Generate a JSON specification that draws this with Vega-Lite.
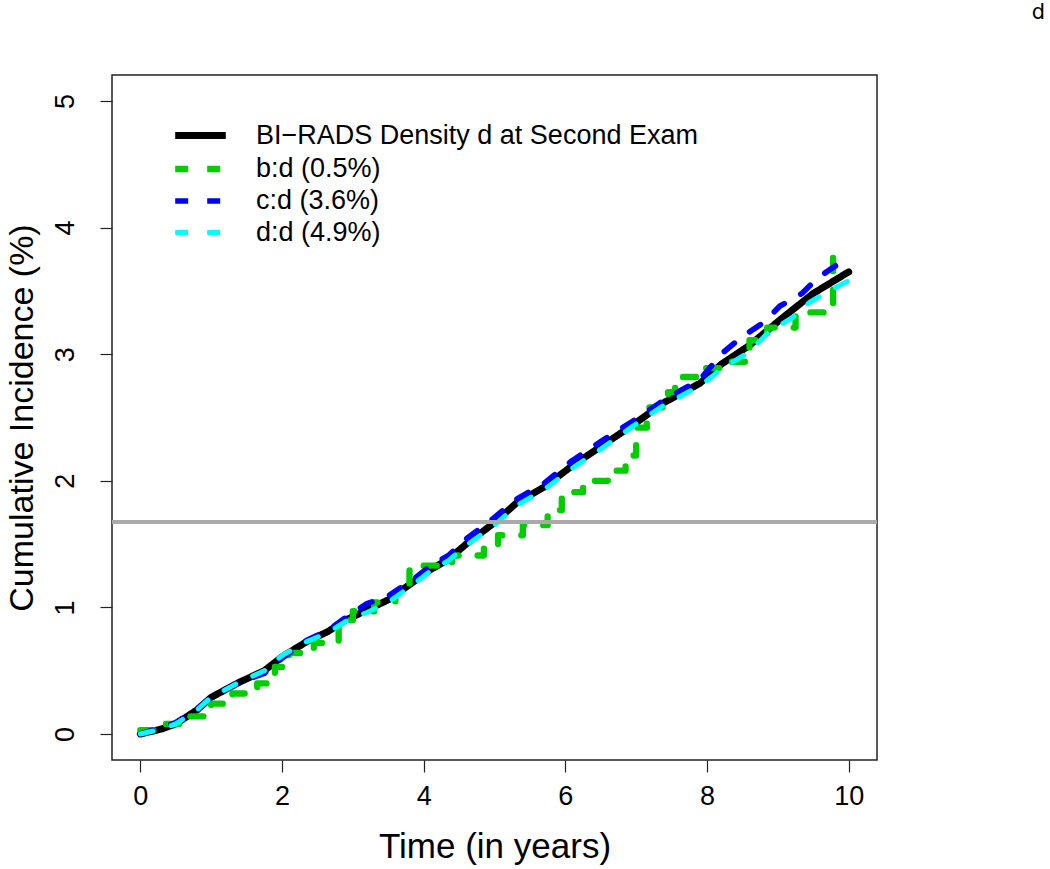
{
  "$schema": "https://vega.github.io/schema/vega-lite/v6.json",
  "width": 765,
  "height": 685,
  "autosize": {"type": "none"},
  "padding": {"left": 112, "top": 75, "right": 173, "bottom": 109},
  "background": "white",
  "title": {"text": "d", "anchor": "end", "dx": 168, "offset": 52, "fontSize": 21, "font": "DejaVu Sans", "fontWeight": "normal", "color": "black"},
  "config": {
    "view": {"stroke": "#222222", "strokeWidth": 1.5}
  },
  "data": {"values": [
    {"series": "BI−RADS Density d at Second Exam", "t": 0, "ci": 0},
    {"series": "BI−RADS Density d at Second Exam", "t": 0.3, "ci": 0.04},
    {"series": "BI−RADS Density d at Second Exam", "t": 0.5, "ci": 0.08},
    {"series": "BI−RADS Density d at Second Exam", "t": 0.8, "ci": 0.19},
    {"series": "BI−RADS Density d at Second Exam", "t": 1.0, "ci": 0.29},
    {"series": "BI−RADS Density d at Second Exam", "t": 1.4, "ci": 0.41},
    {"series": "BI−RADS Density d at Second Exam", "t": 1.75, "ci": 0.5},
    {"series": "BI−RADS Density d at Second Exam", "t": 2.0, "ci": 0.61},
    {"series": "BI−RADS Density d at Second Exam", "t": 2.35, "ci": 0.73},
    {"series": "BI−RADS Density d at Second Exam", "t": 2.65, "ci": 0.81},
    {"series": "BI−RADS Density d at Second Exam", "t": 2.9, "ci": 0.9},
    {"series": "BI−RADS Density d at Second Exam", "t": 3.2, "ci": 0.98},
    {"series": "BI−RADS Density d at Second Exam", "t": 3.5, "ci": 1.06},
    {"series": "BI−RADS Density d at Second Exam", "t": 3.85, "ci": 1.2},
    {"series": "BI−RADS Density d at Second Exam", "t": 4.1, "ci": 1.3},
    {"series": "BI−RADS Density d at Second Exam", "t": 4.35, "ci": 1.38},
    {"series": "BI−RADS Density d at Second Exam", "t": 4.6, "ci": 1.5},
    {"series": "BI−RADS Density d at Second Exam", "t": 5.0, "ci": 1.67},
    {"series": "BI−RADS Density d at Second Exam", "t": 5.3, "ci": 1.82},
    {"series": "BI−RADS Density d at Second Exam", "t": 5.7, "ci": 1.95},
    {"series": "BI−RADS Density d at Second Exam", "t": 6.1, "ci": 2.12},
    {"series": "BI−RADS Density d at Second Exam", "t": 6.5, "ci": 2.27},
    {"series": "BI−RADS Density d at Second Exam", "t": 6.95, "ci": 2.44},
    {"series": "BI−RADS Density d at Second Exam", "t": 7.4, "ci": 2.62},
    {"series": "BI−RADS Density d at Second Exam", "t": 7.9, "ci": 2.77},
    {"series": "BI−RADS Density d at Second Exam", "t": 8.2, "ci": 2.92},
    {"series": "BI−RADS Density d at Second Exam", "t": 8.6, "ci": 3.07},
    {"series": "BI−RADS Density d at Second Exam", "t": 9.05, "ci": 3.28},
    {"series": "BI−RADS Density d at Second Exam", "t": 9.5, "ci": 3.48},
    {"series": "BI−RADS Density d at Second Exam", "t": 10.0, "ci": 3.65},

    {"series": "b:d (0.5%)", "t": 0, "ci": 0.03},
    {"series": "b:d (0.5%)", "t": 0.3, "ci": 0.08},
    {"series": "b:d (0.5%)", "t": 0.7, "ci": 0.14},
    {"series": "b:d (0.5%)", "t": 1.0, "ci": 0.24},
    {"series": "b:d (0.5%)", "t": 1.3, "ci": 0.32},
    {"series": "b:d (0.5%)", "t": 1.65, "ci": 0.4},
    {"series": "b:d (0.5%)", "t": 1.9, "ci": 0.53},
    {"series": "b:d (0.5%)", "t": 2.1, "ci": 0.64},
    {"series": "b:d (0.5%)", "t": 2.45, "ci": 0.72},
    {"series": "b:d (0.5%)", "t": 2.8, "ci": 0.9},
    {"series": "b:d (0.5%)", "t": 3.0, "ci": 0.97},
    {"series": "b:d (0.5%)", "t": 3.3, "ci": 1.04},
    {"series": "b:d (0.5%)", "t": 3.6, "ci": 1.12},
    {"series": "b:d (0.5%)", "t": 3.8, "ci": 1.33},
    {"series": "b:d (0.5%)", "t": 4.4, "ci": 1.41},
    {"series": "b:d (0.5%)", "t": 4.85, "ci": 1.49},
    {"series": "b:d (0.5%)", "t": 5.05, "ci": 1.57},
    {"series": "b:d (0.5%)", "t": 5.4, "ci": 1.65},
    {"series": "b:d (0.5%)", "t": 5.75, "ci": 1.77},
    {"series": "b:d (0.5%)", "t": 5.95, "ci": 1.91},
    {"series": "b:d (0.5%)", "t": 6.25, "ci": 2.0},
    {"series": "b:d (0.5%)", "t": 6.6, "ci": 2.08},
    {"series": "b:d (0.5%)", "t": 6.85, "ci": 2.2},
    {"series": "b:d (0.5%)", "t": 7.0, "ci": 2.42},
    {"series": "b:d (0.5%)", "t": 7.15, "ci": 2.58},
    {"series": "b:d (0.5%)", "t": 7.45, "ci": 2.7},
    {"series": "b:d (0.5%)", "t": 7.55, "ci": 2.82},
    {"series": "b:d (0.5%)", "t": 7.95, "ci": 2.89},
    {"series": "b:d (0.5%)", "t": 8.3, "ci": 2.94},
    {"series": "b:d (0.5%)", "t": 8.6, "ci": 3.11},
    {"series": "b:d (0.5%)", "t": 8.85, "ci": 3.21},
    {"series": "b:d (0.5%)", "t": 9.25, "ci": 3.33},
    {"series": "b:d (0.5%)", "t": 9.78, "ci": 3.78},
    {"series": "b:d (0.5%)", "t": 9.86, "ci": 3.78},

    {"series": "c:d (3.6%)", "t": 0, "ci": 0},
    {"series": "c:d (3.6%)", "t": 0.3, "ci": 0.05},
    {"series": "c:d (3.6%)", "t": 0.5, "ci": 0.09},
    {"series": "c:d (3.6%)", "t": 0.8, "ci": 0.2},
    {"series": "c:d (3.6%)", "t": 1.0, "ci": 0.29},
    {"series": "c:d (3.6%)", "t": 1.4, "ci": 0.41},
    {"series": "c:d (3.6%)", "t": 1.75, "ci": 0.48},
    {"series": "c:d (3.6%)", "t": 2.0, "ci": 0.6},
    {"series": "c:d (3.6%)", "t": 2.35, "ci": 0.74},
    {"series": "c:d (3.6%)", "t": 2.65, "ci": 0.82},
    {"series": "c:d (3.6%)", "t": 2.9, "ci": 0.92},
    {"series": "c:d (3.6%)", "t": 3.2, "ci": 1.03},
    {"series": "c:d (3.6%)", "t": 3.5, "ci": 1.09},
    {"series": "c:d (3.6%)", "t": 3.85, "ci": 1.22},
    {"series": "c:d (3.6%)", "t": 4.1, "ci": 1.33},
    {"series": "c:d (3.6%)", "t": 4.35, "ci": 1.41},
    {"series": "c:d (3.6%)", "t": 4.6, "ci": 1.54},
    {"series": "c:d (3.6%)", "t": 5.0, "ci": 1.71},
    {"series": "c:d (3.6%)", "t": 5.3, "ci": 1.85},
    {"series": "c:d (3.6%)", "t": 5.7, "ci": 1.98},
    {"series": "c:d (3.6%)", "t": 6.1, "ci": 2.16},
    {"series": "c:d (3.6%)", "t": 6.5, "ci": 2.31},
    {"series": "c:d (3.6%)", "t": 6.95, "ci": 2.47},
    {"series": "c:d (3.6%)", "t": 7.4, "ci": 2.64},
    {"series": "c:d (3.6%)", "t": 7.9, "ci": 2.8},
    {"series": "c:d (3.6%)", "t": 8.22, "ci": 3.01},
    {"series": "c:d (3.6%)", "t": 8.5, "ci": 3.14},
    {"series": "c:d (3.6%)", "t": 8.8, "ci": 3.25},
    {"series": "c:d (3.6%)", "t": 9.03, "ci": 3.38},
    {"series": "c:d (3.6%)", "t": 9.34, "ci": 3.48},
    {"series": "c:d (3.6%)", "t": 9.56, "ci": 3.6},
    {"series": "c:d (3.6%)", "t": 9.87, "ci": 3.72},

    {"series": "d:d (4.9%)", "t": 0, "ci": 0},
    {"series": "d:d (4.9%)", "t": 0.3, "ci": 0.04},
    {"series": "d:d (4.9%)", "t": 0.5, "ci": 0.08},
    {"series": "d:d (4.9%)", "t": 0.8, "ci": 0.19},
    {"series": "d:d (4.9%)", "t": 1.0, "ci": 0.29},
    {"series": "d:d (4.9%)", "t": 1.4, "ci": 0.41},
    {"series": "d:d (4.9%)", "t": 1.75, "ci": 0.5},
    {"series": "d:d (4.9%)", "t": 2.0, "ci": 0.62},
    {"series": "d:d (4.9%)", "t": 2.35, "ci": 0.73},
    {"series": "d:d (4.9%)", "t": 2.65, "ci": 0.8},
    {"series": "d:d (4.9%)", "t": 2.9, "ci": 0.89},
    {"series": "d:d (4.9%)", "t": 3.2, "ci": 0.96},
    {"series": "d:d (4.9%)", "t": 3.5, "ci": 1.04},
    {"series": "d:d (4.9%)", "t": 3.85, "ci": 1.18},
    {"series": "d:d (4.9%)", "t": 4.1, "ci": 1.29},
    {"series": "d:d (4.9%)", "t": 4.35, "ci": 1.37},
    {"series": "d:d (4.9%)", "t": 4.6, "ci": 1.49},
    {"series": "d:d (4.9%)", "t": 5.0, "ci": 1.65},
    {"series": "d:d (4.9%)", "t": 5.3, "ci": 1.8},
    {"series": "d:d (4.9%)", "t": 5.7, "ci": 1.93},
    {"series": "d:d (4.9%)", "t": 6.1, "ci": 2.1},
    {"series": "d:d (4.9%)", "t": 6.5, "ci": 2.25},
    {"series": "d:d (4.9%)", "t": 6.95, "ci": 2.43},
    {"series": "d:d (4.9%)", "t": 7.4, "ci": 2.6},
    {"series": "d:d (4.9%)", "t": 7.9, "ci": 2.75},
    {"series": "d:d (4.9%)", "t": 8.2, "ci": 2.88},
    {"series": "d:d (4.9%)", "t": 8.6, "ci": 3.02},
    {"series": "d:d (4.9%)", "t": 8.88, "ci": 3.18},
    {"series": "d:d (4.9%)", "t": 9.21, "ci": 3.29},
    {"series": "d:d (4.9%)", "t": 9.45, "ci": 3.41},
    {"series": "d:d (4.9%)", "t": 9.76, "ci": 3.51},
    {"series": "d:d (4.9%)", "t": 10.0, "ci": 3.58}
  ]},
  "layer": [
    {
      "encoding": {
        "x": {"field": "t", "type": "quantitative", "scale": {"domain": [-0.4, 10.4], "nice": false, "zero": false},
          "axis": {"values": [0, 2, 4, 6, 8, 10], "format": "d", "title": "Time (in years)", "grid": false, "domain": false, "tickColor": "#222222", "tickSize": 12, "tickWidth": 1.2, "labelFont": "Liberation Sans", "labelFontSize": 27, "labelColor": "black", "labelPadding": 11, "titleFont": "Liberation Sans", "titleFontWeight": "normal", "titleColor": "black", "titleFontSize": 35, "titlePadding": 20}},
        "y": {"field": "ci", "type": "quantitative", "scale": {"domain": [-0.205, 5.205], "nice": false, "zero": false},
          "axis": {"values": [0, 1, 2, 3, 4, 5], "format": "d", "title": "Cumulative Incidence (%)", "grid": false, "domain": false, "tickColor": "#222222", "tickSize": 12, "tickWidth": 1.2, "labelFont": "Liberation Sans", "labelFontSize": 27, "labelColor": "black", "labelAngle": 270, "labelAlign": "center", "labelBaseline": "bottom", "labelPadding": 21, "titleFont": "Liberation Sans", "titleFontWeight": "normal", "titleColor": "black", "titleFontSize": 34, "titlePadding": 12}},
        "color": {"field": "series", "type": "nominal",
          "scale": {"domain": ["BI−RADS Density d at Second Exam", "b:d (0.5%)", "c:d (3.6%)", "d:d (4.9%)"], "range": ["#000000", "#00cd00", "#0000ff", "#00ffff"]},
          "legend": {"orient": "none", "legendX": 69, "legendY": 41, "title": null, "symbolType": "M-1.6,0H1.6", "symbolSize": 1000, "labelFontSize": 27, "labelFont": "Liberation Sans", "labelColor": "black", "labelOffset": 36, "labelLimit": 800, "rowPadding": 0, "padding": 0, "symbolStrokeWidth": 5}},
        "strokeDash": {"field": "series", "type": "nominal",
          "scale": {"domain": ["BI−RADS Density d at Second Exam", "b:d (0.5%)", "c:d (3.6%)", "d:d (4.9%)"], "range": [[1, 0], [13, 19], [13, 19], [13, 19]]}, "legend": null},
        "strokeWidth": {"field": "series", "type": "nominal",
          "scale": {"domain": ["BI−RADS Density d at Second Exam", "b:d (0.5%)", "c:d (3.6%)", "d:d (4.9%)"], "range": [7, 5, 5, 5]}, "legend": null}
      },
      "layer": [
        {"transform": [{"filter": "datum.series === 'BI−RADS Density d at Second Exam'"}],
         "mark": {"type": "line", "interpolate": "linear", "strokeCap": "round", "strokeJoin": "round", "clip": true}},
        {"transform": [{"filter": "datum.series === 'b:d (0.5%)'"}],
         "mark": {"type": "line", "interpolate": "step-after", "strokeCap": "round", "strokeJoin": "round", "clip": true}},
        {"transform": [{"filter": "datum.series === 'c:d (3.6%)' || datum.series === 'd:d (4.9%)'"}],
         "mark": {"type": "line", "interpolate": "linear", "strokeCap": "round", "strokeJoin": "round", "clip": true}}
      ]
    },
    {
      "mark": {"type": "rule", "color": "#aaaaaa", "strokeWidth": 4, "clip": true},
      "encoding": {"y": {"datum": 1.675, "type": "quantitative"}}
    }
  ]
}
